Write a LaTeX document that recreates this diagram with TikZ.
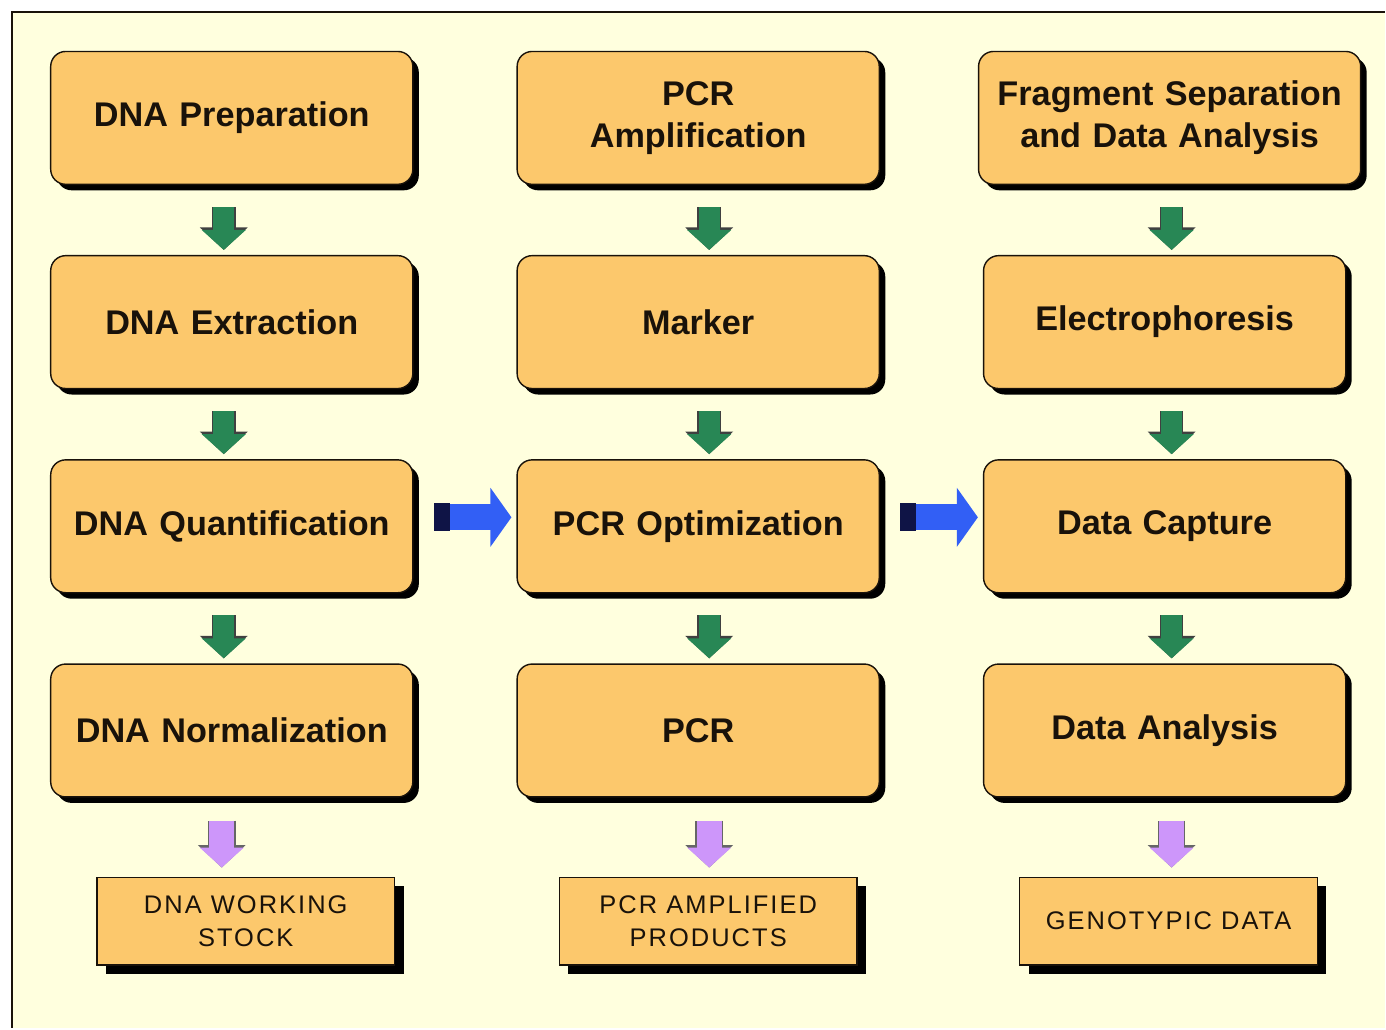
\documentclass[tikz,border=0pt]{standalone}
\usepackage{fontspec}
\setmainfont{Liberation Sans}
\usetikzlibrary{positioning, shadows, arrows.meta}
\definecolor{paper}{RGB}{255,255,222}
\definecolor{boxfill}{RGB}{252,200,108}
\definecolor{ink}{RGB}{25,18,10}
\definecolor{stepgreen}{RGB}{40,135,85}
\definecolor{flowblue}{RGB}{50,95,245}
\definecolor{flownavy}{RGB}{15,20,70}
\definecolor{outviolet}{RGB}{205,150,250}
\tikzstyle{block} = [rectangle, draw=ink, line width=0.8pt, fill=boxfill, text=ink,
    text width=6.95cm, align=center, inner sep=0.15cm, rounded corners=0.3cm,
    minimum height=2.66cm, font=\fontsize{19.5}{24}\selectfont\bfseries,
    drop shadow={shadow xshift=0.12cm, shadow yshift=-0.12cm, opacity=1, fill=black}]
\tikzstyle{result} = [rectangle, draw=ink, line width=0.8pt, fill=boxfill, text=ink,
    align=center, minimum width=5.96cm, minimum height=1.76cm,
    font=\fontsize{14.5}{19}\selectfont\addfontfeatures{LetterSpace=8},
    drop shadow={shadow xshift=0.18cm, shadow yshift=-0.18cm, opacity=1, fill=black}]
\tikzstyle{down} = [draw=stepgreen, line width=0.42cm, -{Triangle[width=0.86cm, length=0.4cm]},
    shorten <=0.44cm, shorten >=0.1cm,
    preaction={draw=black!75, line width=0.47cm, -{Triangle[width=0.93cm, length=0.45cm]}}]
\tikzstyle{yield} = [draw=outviolet, line width=0.5cm, -{Triangle[width=0.86cm, length=0.4cm]},
    shorten <=0.46cm, shorten >=0.18cm,
    preaction={draw=black!60, line width=0.55cm, -{Triangle[width=0.93cm, length=0.45cm]}}]
\tikzstyle{across} = [draw=flowblue, line width=0.52cm,
    {Rectangle[length=0.32cm, width=0.56cm, color=flownavy]}-{Triangle[width=1.16cm, length=0.42cm]},
    shorten <=0.4cm, shorten >=0.1cm]

\begin{document}
\begin{tikzpicture}[node distance = 1.4cm and 2.06cm]
\fill[white] (0,0) rectangle (27.72,-20.58);
\fill[paper] (0.24,-0.24) rectangle (27.72,-20.58);
\draw[ink, line width=1.6pt] (27.72,-0.24) -- (0.24,-0.24) -- (0.24,-20.58);
\useasboundingbox (0,0) rectangle (27.72,-20.58);
% first column
\node[block] (prep) at (4.64,-2.36) {DNA Preparation};
\node[block, below=of prep] (extr) {DNA Extraction};
\node[block, below=of extr] (quant) {DNA Quantification};
\node[block, below=of quant] (norm) {DNA Normalization};
\node[result, below=1.58cm of norm, xshift=0.28cm] (stock) {DNA WORKING\\STOCK};
% second column
\node[block, right=of prep] (amp) {PCR\\Amplification};
\node[block, right=of extr] (marker) {Marker};
\node[block, right=of quant] (optim) {PCR Optimization};
\node[block, right=of norm] (pcr) {PCR};
\node[result, below=1.58cm of pcr, xshift=0.2cm] (products) {PCR AMPLIFIED\\PRODUCTS};
% third column
\node[block, right=of amp, text width=7.35cm, xshift=-0.1cm] (frag) {Fragment Separation\\and Data Analysis};
\node[block, right=of marker] (electro) {Electrophoresis};
\node[block, right=of optim] (capture) {Data Capture};
\node[block, right=of pcr] (analysis) {Data Analysis};
\node[result, below=1.58cm of analysis, xshift=0.08cm] (geno) {GENOTYPIC DATA};
% arrows
\path[down] ([xshift=-0.16cm]prep.south) -- ([xshift=-0.16cm]extr.north);
\path[down] ([xshift=-0.16cm]extr.south) -- ([xshift=-0.16cm]quant.north);
\path[down] ([xshift=-0.16cm]quant.south) -- ([xshift=-0.16cm]norm.north);
\path[down] ([xshift=0.22cm]amp.south) -- ([xshift=0.22cm]marker.north);
\path[down] ([xshift=0.22cm]marker.south) -- ([xshift=0.22cm]optim.north);
\path[down] ([xshift=0.22cm]optim.south) -- ([xshift=0.22cm]pcr.north);
\path[down] ([xshift=0.14cm]electro.north |- frag.south) -- ([xshift=0.14cm]electro.north);
\path[down] ([xshift=0.14cm]electro.south) -- ([xshift=0.14cm]capture.north);
\path[down] ([xshift=0.14cm]capture.south) -- ([xshift=0.14cm]analysis.north);
\path[yield] ([xshift=-0.2cm]norm.south) -- ([xshift=-0.2cm]norm.south |- stock.north);
\path[yield] ([xshift=0.22cm]pcr.south) -- ([xshift=0.22cm]pcr.south |- products.north);
\path[yield] ([xshift=0.14cm]analysis.south) -- ([xshift=0.14cm]analysis.south |- geno.north);
\path[across] ([yshift=0.18cm]quant.east) -- ([yshift=0.18cm]optim.west);
\path[across] ([yshift=0.18cm]optim.east) -- ([yshift=0.18cm]capture.west);
\end{tikzpicture}
\end{document}
